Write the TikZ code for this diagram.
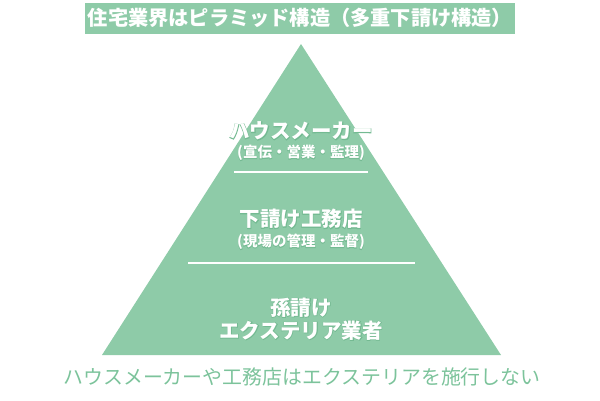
\documentclass[tikz,border=0pt]{standalone}
\usepackage{fontspec}
\setmainfont{Noto Sans CJK JP}
\definecolor{pgreen}{HTML}{8ECBA8}
\definecolor{tgreen}{HTML}{7CC39B}
\definecolor{glowc}{HTML}{74BA92}
\newcommand{\glowtxt}[1]{\makebox[0pt][l]{\textcolor{glowc}{\addfontfeature{FakeBold=5}#1}}#1}
\tikzset{
  lbl/.style={text=white, font=\bfseries\fontsize{20.5}{23}\selectfont, inner sep=0pt, align=center},
  sub/.style={text=white, font=\bfseries\fontsize{14.5}{17}\selectfont, inner sep=0pt},
  sep/.style={draw=white, line width=1.2pt}
}
\begin{document}
\begin{tikzpicture}[x=1pt,y=-1pt]
\useasboundingbox (0,0) rectangle (600,400);
% title
\node[fill=pgreen, minimum width=430pt, minimum height=31pt, inner sep=0pt,
      text=white, font=\bfseries\fontsize{20.2}{23}\selectfont] (title) at (300,18) {住宅業界はピラミッド構造（多重下請け構造）};
% pyramid
\coordinate (apex) at (301,44);
\coordinate (bl) at (102,355);
\coordinate (br) at (501,355);
\fill[pgreen] (apex) -- (br) -- (bl) -- cycle;
% lines
\coordinate (l1a) at (234,172);
\coordinate (l1b) at (368,172);
\coordinate (l2a) at (188,263);
\coordinate (l2b) at (415,263);
\draw[sep] (l1a) -- (l1b);
\draw[sep] (l2a) -- (l2b);
% labels
\node[lbl] (hm) at (301,131) {\glowtxt{ハウスメーカー}};
\node[sub] (hms) at (301,153) {\glowtxt{(宣伝・営業・監理)}};
\node[lbl] (sub1) at (301,219) {\glowtxt{下請け工務店}};
\node[sub] (sub1s) at (301,242) {\glowtxt{(現場の管理・監督)}};
\node[lbl] (mago) at (301,319) {\glowtxt{孫請け}\\\glowtxt{エクステリア業者}};
% bottom note
\node[text=tgreen, font=\fontsize{19.9}{23}\selectfont, inner sep=0pt] (note) at (302,377) {ハウスメーカーや工務店はエクステリアを施行しない};
\end{tikzpicture}
\end{document}
